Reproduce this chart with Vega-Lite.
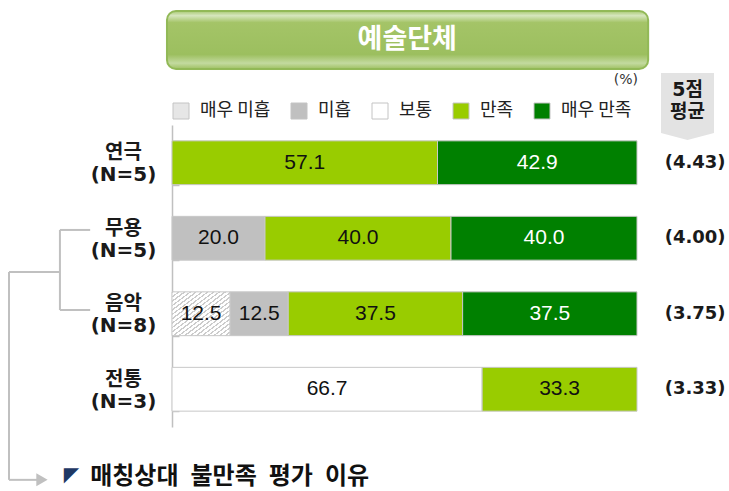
{
  "$schema": "https://vega.github.io/schema/vega-lite/v6.json",
  "width": 465,
  "height": 302,
  "autosize": {"type": "none"},
  "padding": {"left": 172, "top": 125, "right": 92, "bottom": 64},
  "background": "white",
  "config": {"view": {"stroke": null}, "font": "Noto Sans CJK KR"},
  "datasets": {
    "bars": [
      {"label": "연극 (N=5)", "cat": "만족", "k": 4, "pct": 57.1},
      {"label": "연극 (N=5)", "cat": "매우 만족", "k": 5, "pct": 42.9},
      {"label": "무용 (N=5)", "cat": "미흡", "k": 2, "pct": 20.0},
      {"label": "무용 (N=5)", "cat": "만족", "k": 4, "pct": 40.0},
      {"label": "무용 (N=5)", "cat": "매우 만족", "k": 5, "pct": 40.0},
      {"label": "음악 (N=8)", "cat": "매우 미흡", "k": 1, "pct": 12.5},
      {"label": "음악 (N=8)", "cat": "미흡", "k": 2, "pct": 12.5},
      {"label": "음악 (N=8)", "cat": "만족", "k": 4, "pct": 37.5},
      {"label": "음악 (N=8)", "cat": "매우 만족", "k": 5, "pct": 37.5},
      {"label": "전통 (N=3)", "cat": "보통", "k": 3, "pct": 66.7},
      {"label": "전통 (N=3)", "cat": "만족", "k": 4, "pct": 33.3}
    ],
    "avgs": [
      {"label": "연극 (N=5)", "avg": 4.43},
      {"label": "무용 (N=5)", "avg": 4.00},
      {"label": "음악 (N=8)", "avg": 3.75},
      {"label": "전통 (N=3)", "avg": 3.33}
    ]
  },
  "layer": [
    {
      "layer": [
        {
          "data": {"name": "bars"},
          "transform": [{"stack": "pct", "groupby": ["label"], "sort": [{"field": "k"}], "as": ["x0", "x1"]}],
          "mark": {"type": "bar", "stroke": "#c8c8c8", "strokeWidth": 1},
          "encoding": {
            "y": {
              "field": "label", "type": "nominal",
              "sort": ["연극 (N=5)", "무용 (N=5)", "음악 (N=8)", "전통 (N=3)"],
              "scale": {"paddingInner": 0.42, "paddingOuter": 0.21},
              "axis": {
                "title": null, "domainColor": "#c0c0c0", "domainWidth": 1.5,
                "tickColor": "#c0c0c0", "tickWidth": 1.5, "tickSize": -7, "tickBand": "extent",
                "labelExpr": "datum.value ? split(datum.value, ' ') : ''", "labelAlign": "center", "labelBaseline": "middle",
                "labelOffset": -10,
                "labelPadding": 56, "labelFontSize": 20, "labelFontWeight": "bold",
                "labelFont": "DejaVu Sans, Noto Sans CJK KR", "labelColor": "#1a1a1a", "labelLineHeight": 22
              }
            },
            "x": {"field": "x0", "type": "quantitative", "scale": {"domain": [0, 100], "nice": false, "zero": false}, "axis": null},
            "x2": {"field": "x1"},
            "color": {
              "condition": {"test": "datum.cat === '매우 미흡'", "value": {"gradient": "linear", "x1": 0, "y1": 0, "x2": 1, "y2": 1, "stops": [
                    {"offset": 0, "color": "#cccccc"}, {"offset": 0.018, "color": "#cccccc"}, {"offset": 0.018, "color": "#ffffff"}, {"offset": 0.05, "color": "#ffffff"},
                    {"offset": 0.05, "color": "#cccccc"}, {"offset": 0.068, "color": "#cccccc"}, {"offset": 0.068, "color": "#ffffff"}, {"offset": 0.1, "color": "#ffffff"},
                    {"offset": 0.1, "color": "#cccccc"}, {"offset": 0.118, "color": "#cccccc"}, {"offset": 0.118, "color": "#ffffff"}, {"offset": 0.15, "color": "#ffffff"},
                    {"offset": 0.15, "color": "#cccccc"}, {"offset": 0.168, "color": "#cccccc"}, {"offset": 0.168, "color": "#ffffff"}, {"offset": 0.2, "color": "#ffffff"},
                    {"offset": 0.2, "color": "#cccccc"}, {"offset": 0.218, "color": "#cccccc"}, {"offset": 0.218, "color": "#ffffff"}, {"offset": 0.25, "color": "#ffffff"},
                    {"offset": 0.25, "color": "#cccccc"}, {"offset": 0.268, "color": "#cccccc"}, {"offset": 0.268, "color": "#ffffff"}, {"offset": 0.3, "color": "#ffffff"},
                    {"offset": 0.3, "color": "#cccccc"}, {"offset": 0.318, "color": "#cccccc"}, {"offset": 0.318, "color": "#ffffff"}, {"offset": 0.35, "color": "#ffffff"},
                    {"offset": 0.35, "color": "#cccccc"}, {"offset": 0.368, "color": "#cccccc"}, {"offset": 0.368, "color": "#ffffff"}, {"offset": 0.4, "color": "#ffffff"},
                    {"offset": 0.4, "color": "#cccccc"}, {"offset": 0.418, "color": "#cccccc"}, {"offset": 0.418, "color": "#ffffff"}, {"offset": 0.45, "color": "#ffffff"},
                    {"offset": 0.45, "color": "#cccccc"}, {"offset": 0.468, "color": "#cccccc"}, {"offset": 0.468, "color": "#ffffff"}, {"offset": 0.5, "color": "#ffffff"},
                    {"offset": 0.5, "color": "#cccccc"}, {"offset": 0.518, "color": "#cccccc"}, {"offset": 0.518, "color": "#ffffff"}, {"offset": 0.55, "color": "#ffffff"},
                    {"offset": 0.55, "color": "#cccccc"}, {"offset": 0.568, "color": "#cccccc"}, {"offset": 0.568, "color": "#ffffff"}, {"offset": 0.6, "color": "#ffffff"},
                    {"offset": 0.6, "color": "#cccccc"}, {"offset": 0.618, "color": "#cccccc"}, {"offset": 0.618, "color": "#ffffff"}, {"offset": 0.65, "color": "#ffffff"},
                    {"offset": 0.65, "color": "#cccccc"}, {"offset": 0.668, "color": "#cccccc"}, {"offset": 0.668, "color": "#ffffff"}, {"offset": 0.7, "color": "#ffffff"},
                    {"offset": 0.7, "color": "#cccccc"}, {"offset": 0.718, "color": "#cccccc"}, {"offset": 0.718, "color": "#ffffff"}, {"offset": 0.75, "color": "#ffffff"},
                    {"offset": 0.75, "color": "#cccccc"}, {"offset": 0.768, "color": "#cccccc"}, {"offset": 0.768, "color": "#ffffff"}, {"offset": 0.8, "color": "#ffffff"},
                    {"offset": 0.8, "color": "#cccccc"}, {"offset": 0.818, "color": "#cccccc"}, {"offset": 0.818, "color": "#ffffff"}, {"offset": 0.85, "color": "#ffffff"},
                    {"offset": 0.85, "color": "#cccccc"}, {"offset": 0.868, "color": "#cccccc"}, {"offset": 0.868, "color": "#ffffff"}, {"offset": 0.9, "color": "#ffffff"},
                    {"offset": 0.9, "color": "#cccccc"}, {"offset": 0.918, "color": "#cccccc"}, {"offset": 0.918, "color": "#ffffff"}, {"offset": 0.95, "color": "#ffffff"},
                    {"offset": 0.95, "color": "#cccccc"}, {"offset": 0.968, "color": "#cccccc"}, {"offset": 0.968, "color": "#ffffff"}, {"offset": 1, "color": "#ffffff"}
                  ]}},
              "field": "cat", "type": "nominal",
              "scale": {
                "domain": ["매우 미흡", "미흡", "보통", "만족", "매우 만족"],
                "range": ["#e6e6e6", "#c0c0c0", "#ffffff", "#99cc00", "#008000"]
              },
              "legend": {
                "title": null, "orient": "top", "direction": "horizontal", "symbolType": "square",
                "symbolSize": 256, "symbolStrokeColor": "#bdbdbd", "symbolStrokeWidth": 1,
                "labelFontSize": 18, "labelFont": "Noto Sans CJK KR", "labelColor": "#222222",
                "labelOffset": 10, "columnPadding": 18, "offset": 4, "padding": 0,
                "encode": {"symbols": {"update": {
                  "stroke": {"value": "#c4c4c4"},
                  "strokeWidth": {"value": 1},
                  "fill": [
                    {"test": "datum.value === '매우 미흡'", "value": {"gradient": "linear", "x1": 0, "y1": 0, "x2": 1, "y2": 1, "stops": [
                      {"offset": 0, "color": "#c8c8c8"}, {"offset": 0.05, "color": "#c8c8c8"}, {"offset": 0.05, "color": "#ffffff"}, {"offset": 0.125, "color": "#ffffff"},
                      {"offset": 0.125, "color": "#c8c8c8"}, {"offset": 0.175, "color": "#c8c8c8"}, {"offset": 0.175, "color": "#ffffff"}, {"offset": 0.25, "color": "#ffffff"},
                      {"offset": 0.25, "color": "#c8c8c8"}, {"offset": 0.3, "color": "#c8c8c8"}, {"offset": 0.3, "color": "#ffffff"}, {"offset": 0.375, "color": "#ffffff"},
                      {"offset": 0.375, "color": "#c8c8c8"}, {"offset": 0.425, "color": "#c8c8c8"}, {"offset": 0.425, "color": "#ffffff"}, {"offset": 0.5, "color": "#ffffff"},
                      {"offset": 0.5, "color": "#c8c8c8"}, {"offset": 0.55, "color": "#c8c8c8"}, {"offset": 0.55, "color": "#ffffff"}, {"offset": 0.625, "color": "#ffffff"},
                      {"offset": 0.625, "color": "#c8c8c8"}, {"offset": 0.675, "color": "#c8c8c8"}, {"offset": 0.675, "color": "#ffffff"}, {"offset": 0.75, "color": "#ffffff"},
                      {"offset": 0.75, "color": "#c8c8c8"}, {"offset": 0.8, "color": "#c8c8c8"}, {"offset": 0.8, "color": "#ffffff"}, {"offset": 0.875, "color": "#ffffff"},
                      {"offset": 0.875, "color": "#c8c8c8"}, {"offset": 0.925, "color": "#c8c8c8"}, {"offset": 0.925, "color": "#ffffff"}, {"offset": 1, "color": "#ffffff"}
                    ]}},
                    {"scale": "color", "field": "value"}
                  ]
                }}}
              }
            }
          }
        },
        {
          "data": {"name": "bars"},
          "transform": [
            {"stack": "pct", "groupby": ["label"], "sort": [{"field": "k"}], "as": ["x0", "x1"]},
            {"calculate": "(datum.x0 + datum.x1) / 2", "as": "xm"}
          ],
          "mark": {"type": "text", "font": "Liberation Sans", "fontSize": 21, "baseline": "middle"},
          "encoding": {
            "y": {"field": "label", "type": "nominal", "sort": ["연극 (N=5)", "무용 (N=5)", "음악 (N=8)", "전통 (N=3)"]},
            "x": {"field": "xm", "type": "quantitative", "scale": {"domain": [0, 100], "nice": false, "zero": false}, "axis": null},
            "text": {"field": "pct", "format": ".1f"},
            "color": {"condition": {"test": "datum.cat === '매우 만족'", "value": "#ffffff"}, "value": "#111111"}
          }
        },
        {
          "data": {"name": "avgs"},
          "transform": [{"calculate": "'(' + format(datum.avg, '.2f') + ')'", "as": "avgText"}],
          "mark": {"type": "text", "font": "DejaVu Sans", "fontWeight": "bold", "fontSize": 18, "color": "#1a1a1a", "baseline": "middle"},
          "encoding": {
            "y": {"field": "label", "type": "nominal", "sort": ["연극 (N=5)", "무용 (N=5)", "음악 (N=8)", "전통 (N=3)"]},
            "x": {"datum": 112.5, "type": "quantitative", "scale": {"domain": [0, 100], "nice": false, "zero": false}, "axis": null},
            "text": {"field": "avgText"}
          }
        }
      ]
    },
    {
      "data": {"values": [{}]},
      "layer": [
        {
          "mark": {"type": "rect", "cornerRadius": 9, "stroke": "#92b957", "strokeWidth": 2,
            "fill": {"gradient": "linear", "x1": 0, "y1": 0, "x2": 0, "y2": 1, "stops": [
              {"offset": 0, "color": "#a9c972"}, {"offset": 0.08, "color": "#d6e6bd"}, {"offset": 0.2, "color": "#a4c467"},
              {"offset": 0.75, "color": "#9cbf5f"}, {"offset": 0.9, "color": "#c3da9f"}, {"offset": 1, "color": "#9fc163"}]}},
          "encoding": {
            "x": {"datum": -1.08, "type": "quantitative", "scale": {"domain": [0, 100], "nice": false, "zero": false}, "axis": null},
            "x2": {"datum": 102.4},
            "y": {"datum": -1.51, "type": "quantitative", "scale": {"domain": [0, 4], "reverse": true, "nice": false, "zero": false}, "axis": null},
            "y2": {"datum": -0.742}
          }
        },
        {
          "mark": {"type": "text", "text": "예술단체", "font": "Noto Sans CJK KR", "fontWeight": "bold", "fontSize": 27, "color": "#ffffff", "baseline": "middle"},
          "encoding": {
            "x": {"datum": 50.6, "type": "quantitative"},
            "y": {"datum": -1.126, "type": "quantitative"}
          }
        },
        {
          "mark": {"type": "text", "text": "(%)", "font": "DejaVu Sans", "fontSize": 14, "color": "#333333", "baseline": "middle"},
          "encoding": {
            "x": {"datum": 97.6, "type": "quantitative"},
            "y": {"datum": -0.596, "type": "quantitative"}
          }
        },
        {
          "mark": {"type": "point", "shape": "M-1,-1.26L1,-1.26L1,1L0,1.26L-1,1Z", "size": 2809, "filled": true, "fill": "#e3e3e3", "opacity": 1, "strokeWidth": 0},
          "encoding": {
            "x": {"datum": 110.86, "type": "quantitative"},
            "y": {"datum": -0.245, "type": "quantitative"}
          }
        },
        {
          "mark": {"type": "text", "text": "5점|평균", "lineBreak": "|", "lineHeight": 22, "font": "DejaVu Sans, Noto Sans CJK KR", "fontWeight": "bold", "fontSize": 19, "color": "#1a1a1a", "baseline": "middle"},
          "encoding": {
            "x": {"datum": 110.86, "type": "quantitative"},
            "y": {"datum": -0.464, "type": "quantitative"}
          }
        },
        {
          "mark": {"type": "rule", "color": "#c0c0c0", "strokeWidth": 2},
          "encoding": {"x": {"datum": -24.1, "type": "quantitative"}, "y": {"datum": 1.39, "type": "quantitative"}, "y2": {"datum": 2.45}}
        },
        {
          "mark": {"type": "rule", "color": "#c0c0c0", "strokeWidth": 2},
          "encoding": {"x": {"datum": -24.1, "type": "quantitative"}, "x2": {"datum": -17.6}, "y": {"datum": 1.39, "type": "quantitative"}}
        },
        {
          "mark": {"type": "rule", "color": "#c0c0c0", "strokeWidth": 2},
          "encoding": {"x": {"datum": -24.1, "type": "quantitative"}, "x2": {"datum": -17.6}, "y": {"datum": 2.45, "type": "quantitative"}}
        },
        {
          "mark": {"type": "rule", "color": "#c0c0c0", "strokeWidth": 2},
          "encoding": {"x": {"datum": -35.05, "type": "quantitative"}, "x2": {"datum": -24.1}, "y": {"datum": 1.947, "type": "quantitative"}}
        },
        {
          "mark": {"type": "rule", "color": "#c0c0c0", "strokeWidth": 2},
          "encoding": {"x": {"datum": -35.05, "type": "quantitative"}, "y": {"datum": 1.947, "type": "quantitative"}, "y2": {"datum": 4.70}}
        },
        {
          "mark": {"type": "rule", "color": "#c0c0c0", "strokeWidth": 2},
          "encoding": {"x": {"datum": -35.05, "type": "quantitative"}, "x2": {"datum": -29.0}, "y": {"datum": 4.70, "type": "quantitative"}}
        },
        {
          "mark": {"type": "point", "shape": "triangle-right", "size": 170, "filled": true, "fill": "#c0c0c0", "opacity": 1, "strokeWidth": 0},
          "encoding": {"x": {"datum": -27.96, "type": "quantitative"}, "y": {"datum": 4.70, "type": "quantitative"}}
        },
        {
          "mark": {"type": "text", "text": "◤", "font": "DejaVu Sans", "fontSize": 20, "color": "#1f3864", "baseline": "middle"},
          "encoding": {"x": {"datum": -21.6, "type": "quantitative"}, "y": {"datum": 4.64, "type": "quantitative"}}
        },
        {
          "mark": {"type": "text", "text": "매칭상대\u2002불만족\u2002평가\u2002이유", "font": "Noto Sans CJK KR", "fontWeight": "bold", "fontSize": 24, "color": "#111111", "align": "left", "baseline": "middle"},
          "encoding": {"x": {"datum": -17.6, "type": "quantitative"}, "y": {"datum": 4.66, "type": "quantitative"}}
        }
      ]
    }
  ],
  "resolve": {"scale": {"y": "independent"}, "axis": {"y": "independent"}}
}
